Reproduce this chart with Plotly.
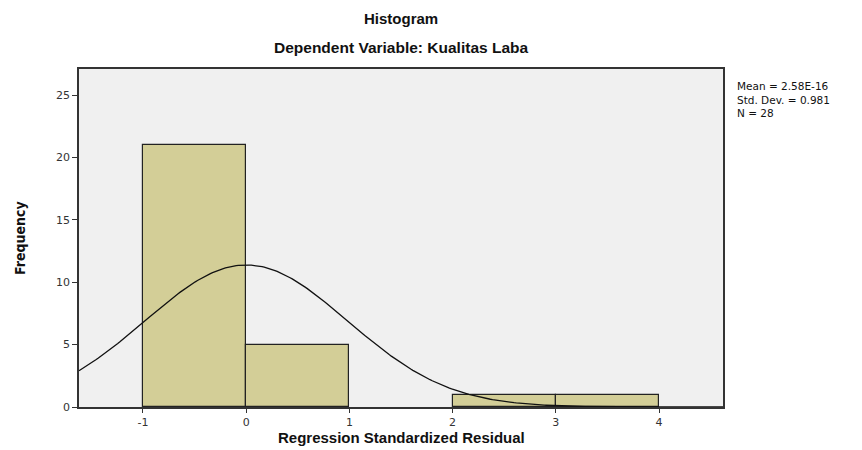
import numpy as np
import plotly.graph_objects as go

bin_left = [-1, 0, 1, 2, 3]
bin_right = [0, 1, 2, 3, 4]
counts = [21, 5, 0, 1, 1]
x_ticks = [-1, 0, 1, 2, 3, 4]
x_tick_labels = ["-1", "0", "1", "2", "3", "4"]
y_ticks = [0, 5, 10, 15, 20, 25]
mean = 2.58e-16
std_dev = 0.981
n_obs = 28
stats_lines = ["Mean = 2.58E-16", "Std. Dev. = 0.981", "N = 28"]

# keep only non-empty bins as drawn bars
bars = [(a, b, c) for a, b, c in zip(bin_left, bin_right, counts) if c > 0]
centers = [(a + b) / 2 for a, b, c in bars]
widths = [b - a for a, b, c in bars]
heights = [c for a, b, c in bars]

fig = go.Figure()
fig.add_trace(go.Bar(
    x=centers, y=heights, width=widths,
    marker=dict(color="#D3CE97", line=dict(color="#222222", width=1.2)),
    hoverinfo="skip", showlegend=False,
))

# fitted normal curve defined by the stated mean / sd / N (bin width 1)
xs = np.linspace(-1.62, 4.62, 300)
ys = n_obs * 1.0 / (std_dev * np.sqrt(2 * np.pi)) * np.exp(-0.5 * ((xs - mean) / std_dev) ** 2)
fig.add_trace(go.Scatter(x=xs, y=ys, mode="lines",
                         line=dict(color="#111111", width=1.3),
                         hoverinfo="skip", showlegend=False))

tickfont = dict(size=11, color="#333", family="DejaVu Sans, sans-serif")
annotations = [
    dict(text="<b>Histogram</b>", xref="paper", yref="paper", x=0.5, y=1,
         yshift=61, showarrow=False, font=dict(size=15, color="#111")),
    dict(text="<b>Dependent Variable: Kualitas Laba</b>", xref="paper", yref="paper",
         x=0.5, y=1, yshift=32, showarrow=False, font=dict(size=15.5, color="#111")),
    dict(text="<b>Regression Standardized Residual</b>", xref="paper", yref="paper",
         x=0.5, y=0, yshift=-41, showarrow=False, font=dict(size=15, color="#111")),
    dict(text="<b>Frequency</b>", xref="paper", yref="paper", x=0, y=0.5,
         xshift=-69, textangle=-90, showarrow=False,
         font=dict(size=14, color="#111", family="DejaVu Sans Condensed, sans-serif")),
    dict(text="<br>".join(stats_lines), xref="paper", yref="paper", x=1, y=1,
         xshift=12, yshift=-9, xanchor="left", yanchor="top",
         align="left", showarrow=False,
         font=dict(size=10.5, color="#111", family="DejaVu Sans, sans-serif")),
]

fig.update_layout(
    width=862, height=450,
    margin=dict(l=71, r=147, t=61, b=51),
    paper_bgcolor="white", plot_bgcolor="#F0F0F0",
    bargap=0,
    font=dict(family="Liberation Sans, Arial, sans-serif", color="#222222"),
    xaxis=dict(range=[-1.62, 4.62], tickvals=x_ticks, ticktext=x_tick_labels,
               ticks="outside", ticklen=4,
               tickcolor="#333", showgrid=False, zeroline=False,
               showline=True, linecolor="#333", linewidth=1.5, mirror=True,
               tickfont=tickfont),
    yaxis=dict(range=[0, 27.1], tickvals=y_ticks, ticks="outside", ticklen=5,
               tickcolor="#333", showgrid=False, zeroline=False,
               showline=True, linecolor="#333", linewidth=1.5, mirror=True,
               tickfont=tickfont),
    annotations=annotations,
)

fig.write_html("out.html")
